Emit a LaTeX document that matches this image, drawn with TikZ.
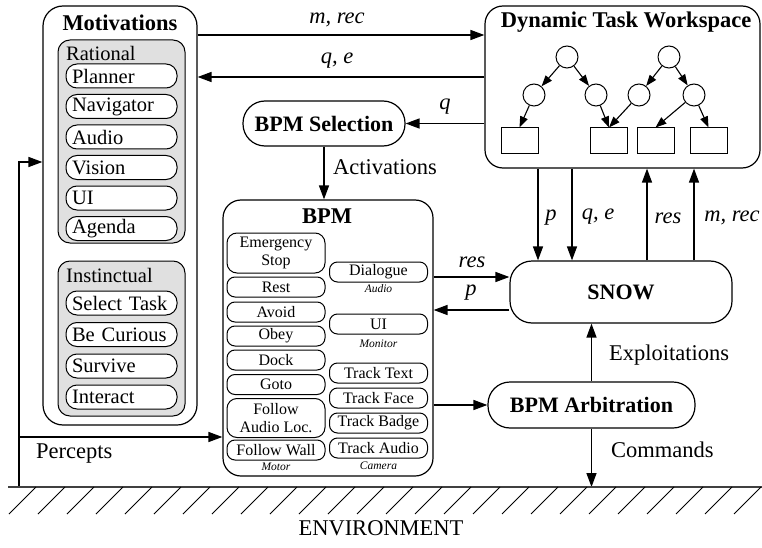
\documentclass[tikz,border=0pt]{standalone}
\usepackage{fontspec}
\setmainfont{Liberation Serif}
\usetikzlibrary{arrows.meta}
\begin{document}
\begin{tikzpicture}[x=1pt,y=-1pt,
  bigbox/.style={draw,line width=1.2pt,rounded corners=20pt,inner sep=0pt},
  grp/.style={draw,line width=1pt,fill=black!12,rounded corners=12pt,inner sep=0pt},
  item/.style={draw,line width=1pt,fill=white,rounded corners=11pt,minimum width=111pt,minimum height=24pt,
     text width=99pt,align=left,inner xsep=6pt,inner ysep=0pt,font=\fontsize{20.5}{22}\selectfont},
  bitem/.style={draw,line width=1pt,fill=white,rounded corners=8pt,minimum width=98pt,minimum height=20pt,
     inner sep=0pt,align=center,font=\fontsize{16}{18}\selectfont},
  pill/.style={draw,line width=1.2pt,rounded corners=22pt,inner sep=0pt,font=\fontsize{22}{24}\selectfont\bfseries},
  ttl/.style={font=\fontsize{22.5}{24}\selectfont\bfseries,inner sep=0pt},
  lab/.style={font=\fontsize{22.5}{24}\selectfont,inner sep=0pt},
  ilab/.style={font=\fontsize{22.5}{24}\selectfont\itshape,inner sep=0pt},
  tiny/.style={font=\fontsize{11.5}{12}\selectfont\itshape,inner sep=0pt},
  arr/.style={-{Triangle[length=14pt,width=10pt]},line width=1.4pt},
  tarr/.style={-{Triangle[length=11pt,width=8pt]},line width=1.1pt},
  circ/.style={draw,circle,line width=1pt,minimum size=22pt,inner sep=0pt},
  rbox/.style={draw,line width=1pt,minimum width=37pt,minimum height=26pt,inner sep=0pt}
]
\useasboundingbox (0,0) rectangle (762,548);

% Motivations
\node[bigbox,minimum width=154pt,minimum height=419pt] (mot) at (120,215.5) {};
\node[ttl] (motT) at (120,23) {Motivations};
\node[grp,minimum width=127pt,minimum height=203pt] (rat) at (121.5,141.5) {};
\node[lab,font=\fontsize{20.5}{22}\selectfont,anchor=west] (ratT) at (66,53) {Rational};
\node[item] (i1) at (121.5,76) {Planner};
\node[item] (i2) at (121.5,106.5) {Navigator};
\node[item] (i3) at (121.5,137) {Audio};
\node[item] (i4) at (121.5,167.5) {Vision};
\node[item] (i5) at (121.5,198) {UI};
\node[item] (i6) at (121.5,228.5) {Agenda};
\node[grp,minimum width=127pt,minimum height=155pt] (ins) at (121.5,338.5) {};
\node[lab,font=\fontsize{20.5}{22}\selectfont,anchor=west] (insT) at (66,275) {Instinctual};
\node[item] (j1) at (121.5,303) {Select Task};
\node[item] (j2) at (121.5,334.5) {Be Curious};
\node[item] (j3) at (121.5,366) {Survive};
\node[item] (j4) at (121.5,397) {Interact};

% Dynamic Task Workspace
\node[bigbox,rounded corners=18pt,minimum width=275pt,minimum height=162pt] (dtw) at (622.5,87) {};
\node[ttl] (dtwT) at (626,22) {Dynamic Task Workspace};
\node[circ] (r1) at (567,57) {};
\node[circ] (c11) at (534,95) {};
\node[circ] (c12) at (596,95) {};
\node[circ] (r2) at (669,57) {};
\node[circ] (c21) at (639,95) {};
\node[circ] (c22) at (694,95) {};
\node[rbox] (b1) at (519.5,141) {};
\node[rbox] (b2) at (609,141) {};
\node[rbox] (b3) at (655.5,141) {};
\node[rbox] (b4) at (708.5,141) {};
\draw[tarr] (r1) -- (c11);
\draw[tarr] (r1) -- (c12);
\draw[tarr] (r2) -- (c21);
\draw[tarr] (r2) -- (c22);
\draw[tarr] (c11) -- (b1.north);
\draw[tarr] (c12) -- (b2.north);
\draw[tarr] (c21) -- (b2.north);
\draw[tarr] (c22) -- (b3.north);
\draw[tarr] (c22) -- (b4.north);

% BPM Selection
\node[pill,minimum width=162pt,minimum height=45pt] (sel) at (324,123.5) {BPM Selection};

% BPM
\node[bigbox,rounded corners=18pt,minimum width=210pt,minimum height=276pt] (bpm) at (328,338) {};
\node[ttl] (bpmT) at (327,216) {BPM};
\node[bitem,minimum height=40pt,rounded corners=10pt] (e1) at (276,253) {Emergency\\Stop};
\node[bitem] (e2) at (276,287) {Rest};
\node[bitem] (e3) at (276,312) {Avoid};
\node[bitem] (e4) at (276,336) {Obey};
\node[bitem] (e5) at (276,360) {Dock};
\node[bitem] (e6) at (276,384.5) {Goto};
\node[bitem,minimum height=39pt,rounded corners=10pt] (e7) at (276,418) {Follow\\Audio Loc.};
\node[bitem] (e8) at (276,450) {Follow Wall};
\node[tiny] (motor) at (276,467) {Motor};
\node[bitem] (f1) at (378.5,272) {Dialogue};
\node[tiny] (fa) at (378.5,289) {Audio};
\node[bitem] (f2) at (378.5,324) {UI};
\node[tiny] (fm) at (378.5,344) {Monitor};
\node[bitem] (f3) at (378.5,373) {Track Text};
\node[bitem] (f4) at (378.5,398) {Track Face};
\node[bitem] (f5) at (378.5,423) {Track Badge};
\node[bitem] (f6) at (378.5,448) {Track Audio};
\node[tiny] (fc) at (378.5,466) {Camera};

% SNOW and Arbitration
\node[bigbox,rounded corners=22pt,minimum width=222pt,minimum height=62pt,font=\fontsize{22}{24}\selectfont\bfseries] (snow) at (621,292) {SNOW};
\node[pill,minimum width=207pt,minimum height=46pt] (arb) at (591.5,405) {BPM Arbitration};

% helper coordinates
\coordinate (y35) at (0,35);
\coordinate (y77) at (0,77);
\coordinate (y277) at (0,277);
\coordinate (y310) at (0,310);
\coordinate (gnd) at (0,487);
\coordinate (gl) at (8,487);
\coordinate (gr) at (762,487);
\coordinate (xp) at (538,0);
\coordinate (xq) at (572,0);
\coordinate (xr) at (647,0);
\coordinate (xm) at (694,0);
\coordinate (pg) at (19,487);
\coordinate (pc) at (19,162);
\coordinate (pb) at (19,437);

% Connectors
\draw[arr] (mot.east |- y35) -- (dtw.west |- y35);
\draw[arr] (dtw.west |- y77) -- (mot.east |- y77);
\node[ilab] (lmrec) at (337,20) {m, rec};
\node[ilab] (lqe) at (337,61) {q, e};
\draw[arr] (dtw.west |- sel) -- (sel.east);
\node[ilab] (lq) at (445,107) {q};
\draw[arr] (sel.south) -- (bpm.north -| sel.south);
\node[lab,anchor=west] (lact) at (333,167) {Activations};

\draw[arr] (dtw.south -| xp) -- (snow.north -| xp);
\draw[arr] (dtw.south -| xq) -- (snow.north -| xq);
\draw[arr] (snow.north -| xr) -- (dtw.south -| xr);
\draw[arr] (snow.north -| xm) -- (dtw.south -| xm);
\node[ilab] (lp1) at (551,218) {p};
\node[ilab] (lqe2) at (598,217) {q, e};
\node[ilab] (lres1) at (668,218) {res};
\node[ilab] (lmrec2) at (732,218) {m, rec};

\draw[arr] (bpm.east |- y277) -- (snow.west |- y277);
\draw[arr] (snow.west |- y310) -- (bpm.east |- y310);
\node[ilab] (lres2) at (472,262) {res};
\node[ilab] (lp2) at (471,293) {p};

\draw[arr] (bpm.east |- arb) -- (arb.west);
\draw[arr] (arb.north) -- (snow.south -| arb.north);
\node[lab,anchor=west] (lexp) at (609,355) {Exploitations};
\draw[arr] (arb.south) -- (arb.south |- gnd);
\node[lab,anchor=west] (lcmd) at (611,450) {Commands};

% Percepts
\draw[arr] (pg) -- (pc) -- (mot.west |- pc);
\draw[arr] (pb) -- (bpm.west |- pb);
\node[lab,anchor=west] (lper) at (36,454) {Percepts};

% Environment
\draw[line width=1.1pt,black!75] (gl) -- (gr);
\foreach \x in {9,38,...,760} \draw[line width=0.8pt] (\x,514) -- (\x+27,487);
\node[lab] (env) at (381,528) {ENVIRONMENT};
\end{tikzpicture}
\end{document}
